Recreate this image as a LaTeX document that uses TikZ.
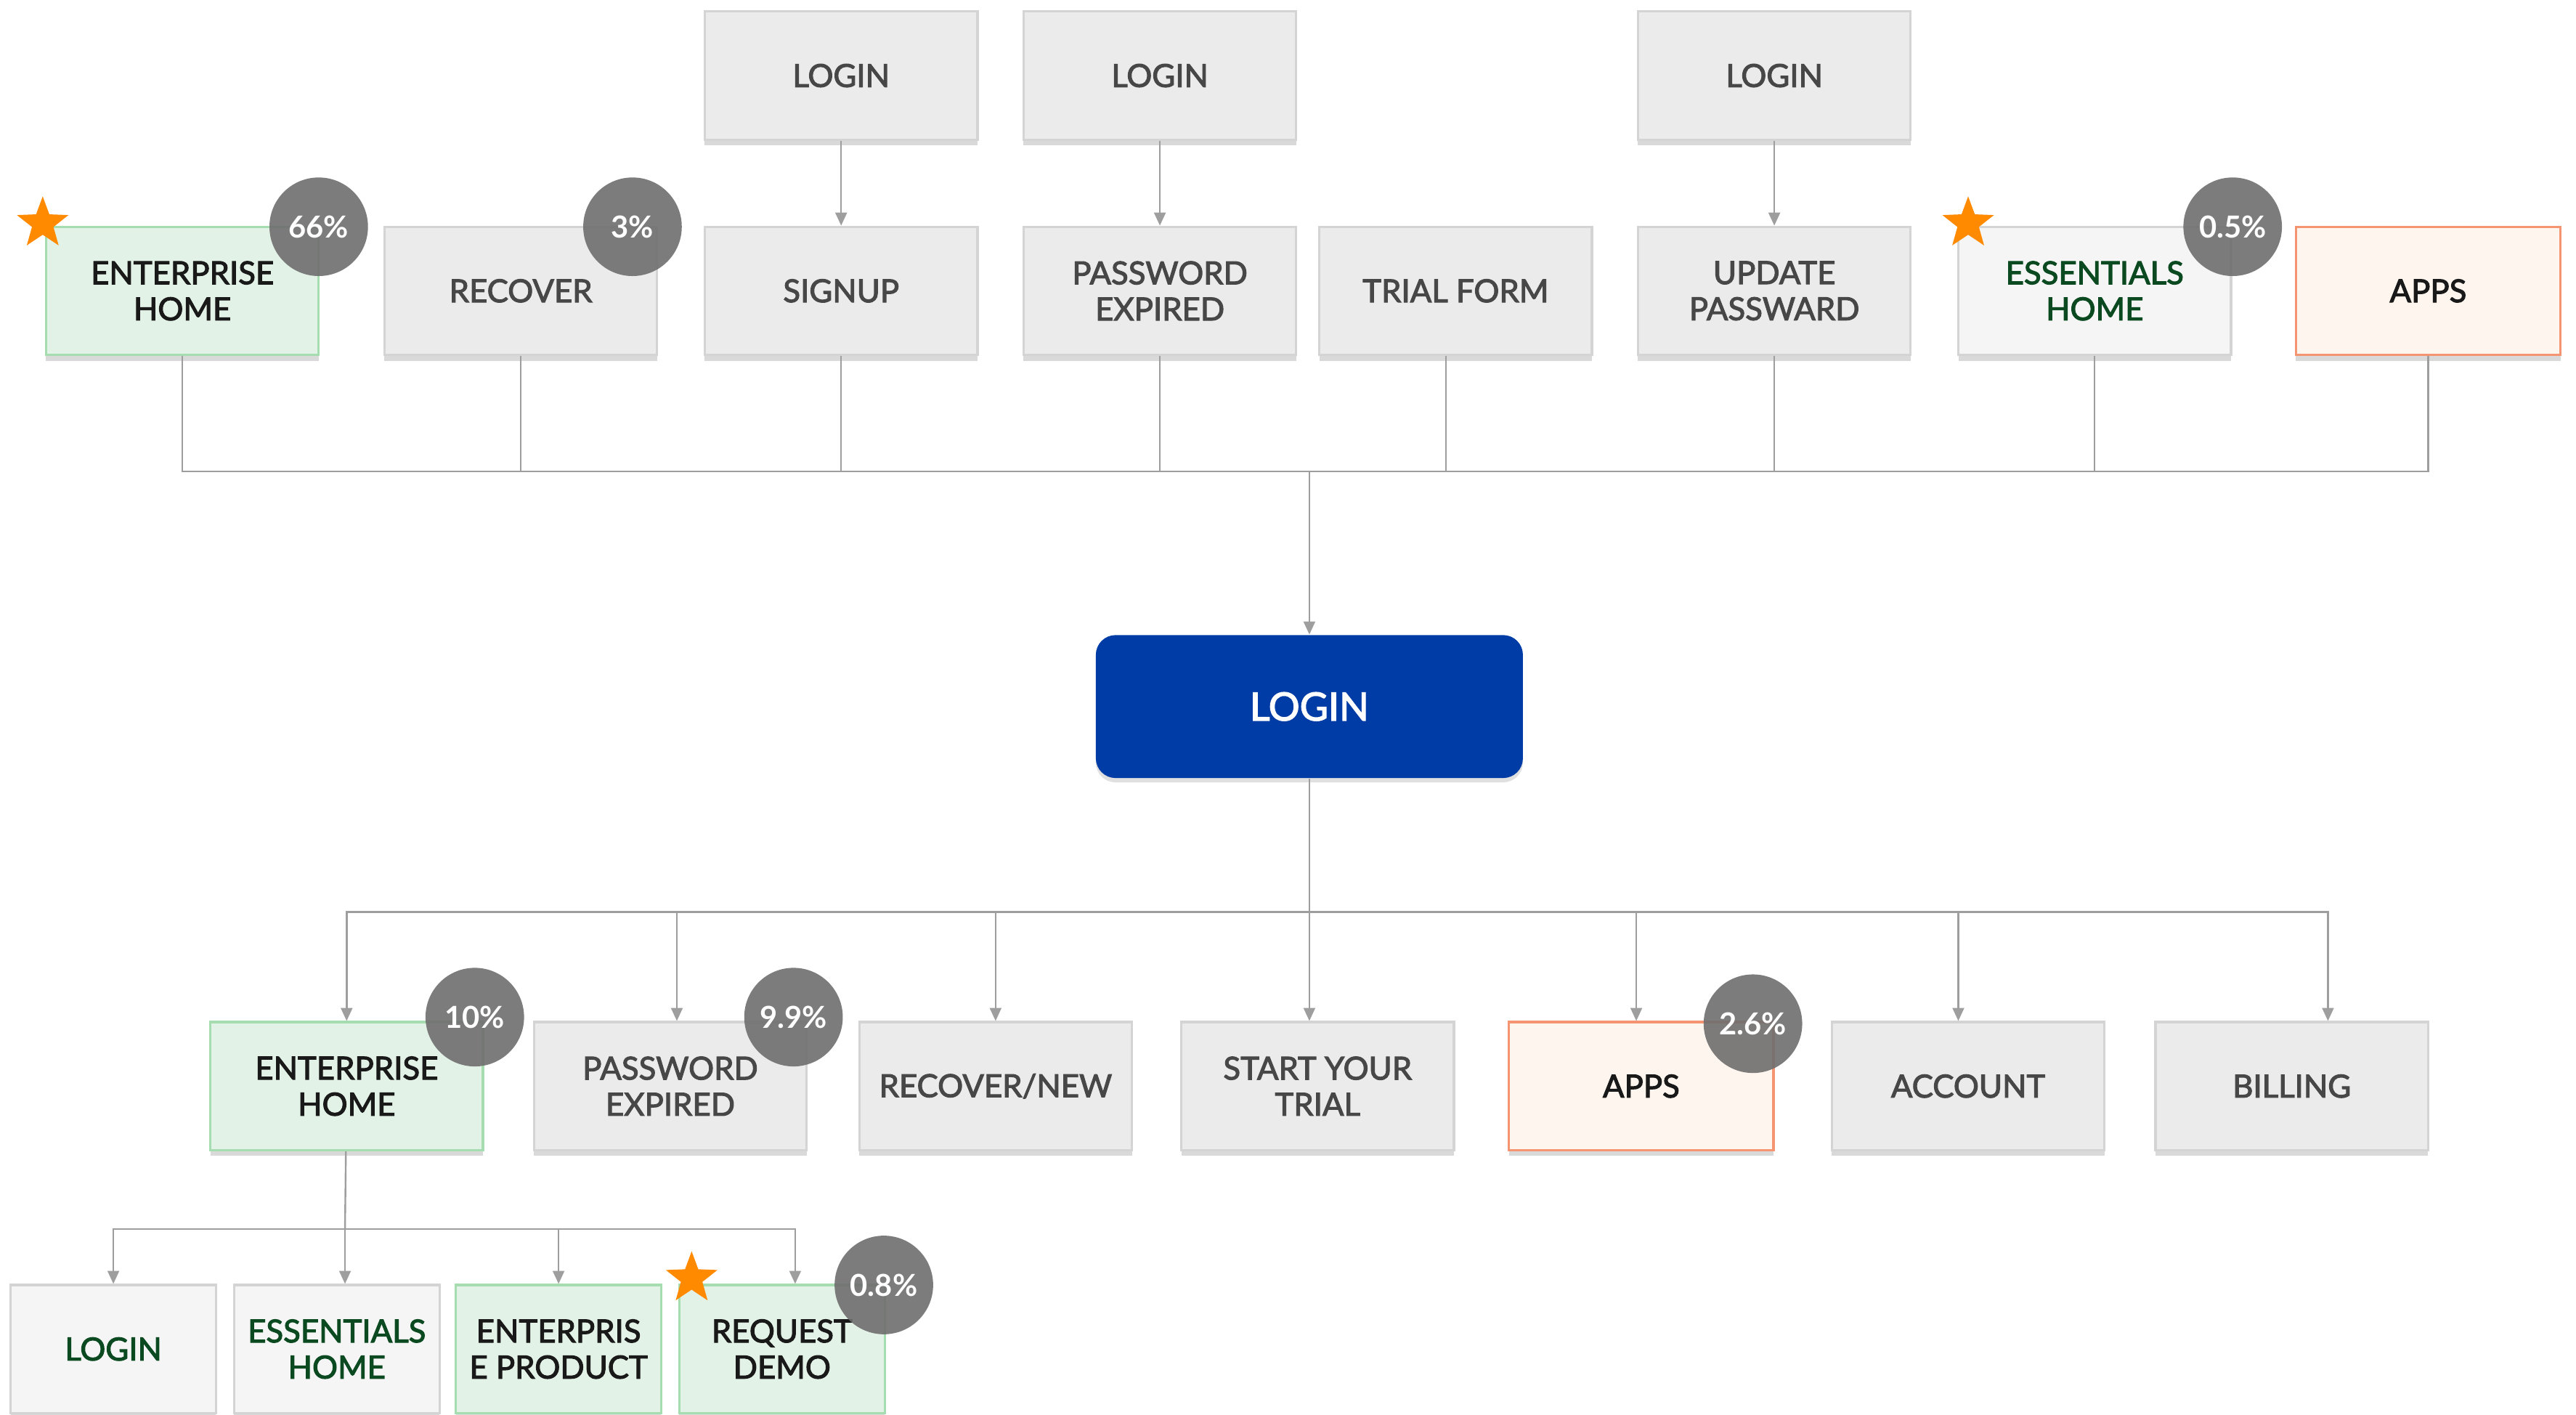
\documentclass[tikz,border=0pt]{standalone}
\usepackage{fontspec}
\setmainfont{Lato}
\newfontfamily\pagefont{Lato}[FakeBold=2.5]
\usetikzlibrary{arrows.meta, shapes.geometric, shadows}

\definecolor{boxgray}{HTML}{EBEBEB}
\definecolor{boxline}{HTML}{D4D4D4}
\definecolor{boxlight}{HTML}{F5F5F5}
\definecolor{greenfill}{HTML}{E3F2E6}
\definecolor{greenline}{HTML}{A6DDB0}
\definecolor{orangefill}{HTML}{FEF5EE}
\definecolor{orangeline}{HTML}{F59470}
\definecolor{loginblue}{HTML}{003CA6}
\definecolor{wiregray}{HTML}{9E9E9E}
\definecolor{textgray}{HTML}{474747}
\definecolor{textgreen}{HTML}{0B4A20}
\definecolor{badgegray}{HTML}{6E6E6E}
\definecolor{starorange}{HTML}{FF8A00}

\begin{document}
\begin{tikzpicture}[x=0.02cm, y=-0.02cm,
  page/.style={draw=boxline, line width=0.8pt, fill=boxgray, text=textgray,
    minimum width=3.32cm, minimum height=1.56cm, inner sep=1pt, align=center,
    font=\pagefont\fontsize{11}{12.5}\selectfont,
    drop shadow={shadow xshift=0pt, shadow yshift=-2pt, opacity=0.15, fill=black}},
  greenpage/.style={page, draw=greenline, fill=greenfill, text=black!90},
  orangepage/.style={page, draw=orangeline, fill=orangefill, text=black!90},
  lightpage/.style={page, fill=boxlight, text=textgreen},
  smallpage/.style={minimum width=2.5cm},
  badge/.style={circle, fill=badgegray, fill opacity=0.9, text opacity=1,
    text=white, minimum size=1.2cm, inner sep=0pt, font=\fontsize{10.5}{12}\selectfont\bfseries},
  mark star/.style={star, star points=5, star point ratio=2.4, fill=starorange,
    minimum size=0.66cm, inner sep=0pt},
  link/.style={draw=wiregray, line width=0.6pt},
  arrow/.style={link, -{Triangle[width=4pt, length=4.5pt]}}]

  \useasboundingbox (0,0) rectangle (1568,861);

  % top logins
  \node[page] (loginA) at (512,46) {LOGIN};
  \node[page] (loginB) at (706,46) {LOGIN};
  \node[page] (loginC) at (1080,46) {LOGIN};

  % pages leading to login
  \node[greenpage] (entTop) at (111,177) {ENTERPRISE\\HOME};
  \node[page] (recover) at (317,177) {RECOVER};
  \node[page] (signup) at (512,177) {SIGNUP};
  \node[page] (pwdTop) at (706,177) {PASSWORD\\EXPIRED};
  \node[page] (trial) at (886,177) {TRIAL FORM};
  \node[page] (update) at (1080,177) {UPDATE\\PASSWARD};
  \node[lightpage] (essTop) at (1275,177) {ESSENTIALS\\HOME};
  \node[orangepage, minimum width=3.22cm] (appsTop) at (1478,177) {APPS};

  % main login
  \node[fill=loginblue, text=white, rounded corners=0.24cm, minimum width=5.2cm,
    minimum height=1.74cm, font=\pagefont\fontsize{13.5}{15}\selectfont,
    drop shadow={shadow xshift=0pt, shadow yshift=-1.5pt, opacity=0.12, fill=black}]
    (login) at (797,430) {LOGIN};

  % pages after login
  \node[greenpage] (entMid) at (211,661) {ENTERPRISE\\HOME};
  \node[page] (pwdMid) at (408,661) {PASSWORD\\EXPIRED};
  \node[page] (recNew) at (606,661) {RECOVER/NEW};
  \node[page] (start) at (802,661) {START YOUR\\TRIAL};
  \node[orangepage, minimum width=3.22cm] (appsMid) at (999,661) {APPS};
  \node[page] (account) at (1198,661) {ACCOUNT};
  \node[page] (billing) at (1395,661) {BILLING};

  % pages after enterprise home
  \node[lightpage, smallpage] (loginLow) at (69,821) {LOGIN};
  \node[lightpage, smallpage] (essLow) at (205,821) {ESSENTIALS\\HOME};
  \node[greenpage, smallpage] (prodLow) at (340,821) {ENTERPRIS\\E PRODUCT};
  \node[greenpage, smallpage] (demoLow) at (476,821) {REQUEST\\DEMO};

  % connectors into login
  \coordinate (topbus) at (797,287);
  \draw[arrow] (loginA) -- (signup);
  \draw[arrow] (loginB) -- (pwdTop);
  \draw[arrow] (loginC) -- (update);
  \foreach \n in {entTop, recover, signup, pwdTop, update, essTop, appsTop}
    \draw[link] (\n.south) |- (topbus);
  \draw[link] ([xshift=-0.12cm]trial.south) |- (topbus);
  \draw[arrow] (topbus) -- (login);

  % connectors out of login
  \coordinate (botbus) at (797,555);
  \draw[link] (login) -- (botbus);
  \foreach \n/\dx in {entMid/0, pwdMid/0.08, recNew/0, start/-0.1, appsMid/-0.06, account/-0.12, billing/0.44}
    \draw[arrow] (botbus) -| ([xshift=\dx cm]\n.north);

  % connectors out of enterprise home
  \coordinate (subbus) at (210,748);
  \draw[link] (entMid) -- (subbus);
  \draw[arrow] (subbus) -| (loginLow.north);
  \draw[arrow] (subbus) -| ([xshift=0.1cm]essLow.north);
  \draw[arrow] (subbus) -| (prodLow.north);
  \draw[arrow] (subbus) -| ([xshift=0.16cm]demoLow.north);

  % shares
  \node[badge] (bEntTop) at (194,138) {66\%};
  \node[badge] (bRecover) at (385,138) {3\%};
  \node[badge] (bEssTop) at (1359,138) {0.5\%};
  \node[badge] (bEntMid) at (289,619) {10\%};
  \node[badge] (bPwdMid) at (483,619) {9.9\%};
  \node[badge] (bAppsMid) at (1067,623) {2.6\%};
  \node[badge] (bDemo) at (538,782) {0.8\%};

  % stars
  \node[mark star] (sEntTop) at (26,136) {};
  \node[mark star] (sEssTop) at (1198,136) {};
  \node[mark star] (sDemo) at (421,778) {};
\end{tikzpicture}
\end{document}
